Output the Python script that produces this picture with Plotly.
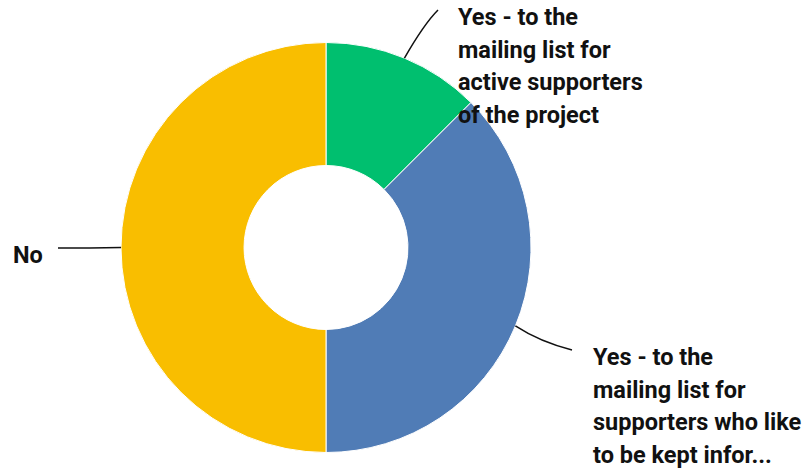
import math
import plotly.graph_objects as go

# Survey answers: share of respondents (%) per answer
categories = [
    "Yes - to the mailing list for active supporters of the project",
    "Yes - to the mailing list for supporters who like to be kept informed",
    "No",
]
shares = [12.5, 37.5, 50.0]
label_lines = [
    ["Yes - to the", "mailing list for", "active supporters", "of the project"],
    ["Yes - to the", "mailing list for", "supporters who like", "to be kept infor..."],
    ["No"],
]
colors = ["#00BF6F", "#507CB6", "#F9BE00"]

W, H = 807, 471
CX, CY, R = 326.0, 247.5, 205.0   # donut centre and outer radius in pixels
HOLE = 0.4
FONT = dict(family="Roboto", size=23.5, color="#111111")
LINE_STEP = 32.7


def px(x):
    return x / W


def py(y):
    return 1 - y / H


fig = go.Figure(
    go.Pie(
        labels=categories,
        values=shares,
        hole=HOLE,
        sort=False,
        direction="clockwise",
        rotation=0,
        marker=dict(colors=colors, line=dict(color="white", width=1)),
        textinfo="none",
        hoverinfo="label+percent",
        domain=dict(x=[px(CX - R), px(CX + R)], y=[py(CY + R), py(CY - R)]),
        showlegend=False,
    )
)

# leader lines start at the middle of each slice on the outer edge
total = sum(shares)
starts = []
acc = 0.0
for v in shares:
    mid = (acc + v / 2) / total * 2 * math.pi
    starts.append((CX + R * math.sin(mid), CY - R * math.cos(mid)))
    acc += v

# (control point, end point, first-line centre of label)
leaders = [
    ((424, 24), (438, 10), (456, 17)),
    ((540, 342), (572, 350), (591, 357)),
    ((90, 248), (58, 248), (11, 255)),
]

shapes = []
annotations = []
for (sx, sy), ((qx, qy), (ex, ey), (lx, ly)), lines in zip(starts, leaders, label_lines):
    path = f"M {px(sx)},{py(sy)} Q {px(qx)},{py(qy)} {px(ex)},{py(ey)}"
    shapes.append(dict(type="path", path=path, xref="paper", yref="paper",
                       line=dict(color="#111111", width=1.5)))
    for i, t in enumerate(lines):
        annotations.append(dict(
            text=f"<b>{t}</b>", x=px(lx), y=py(ly + i * LINE_STEP),
            xref="paper", yref="paper", xanchor="left", yanchor="middle",
            showarrow=False, font=FONT,
        ))

fig.update_layout(
    width=W, height=H,
    margin=dict(l=0, r=0, t=0, b=0),
    paper_bgcolor="white", plot_bgcolor="white",
    shapes=shapes, annotations=annotations,
)

fig.write_html("out.html")
